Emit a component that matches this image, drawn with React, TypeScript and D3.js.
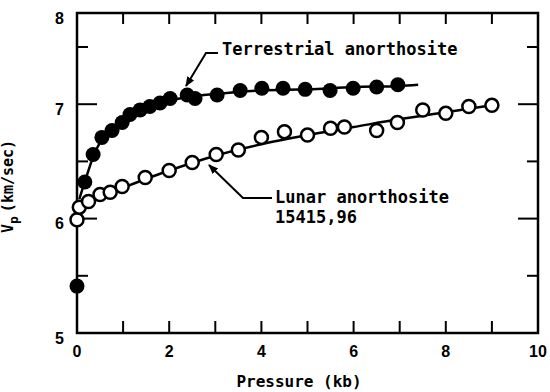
import React from 'react';
import * as d3 from 'd3';

// measured points (pressure in kb, Vp in km/sec)
const terrestrialP = [0, 0.17, 0.35, 0.54, 0.76, 0.98, 1.15, 1.37, 1.58, 1.8, 2.02, 2.39, 2.56, 3.04, 3.54, 4.01, 4.47, 4.95, 5.49, 5.99, 6.5, 6.96];
const terrestrialVp = [5.41, 6.32, 6.56, 6.71, 6.77, 6.84, 6.91, 6.95, 6.98, 7.01, 7.05, 7.08, 7.05, 7.08, 7.12, 7.14, 7.14, 7.13, 7.12, 7.14, 7.15, 7.17];

const lunarP = [0, 0.05, 0.25, 0.5, 0.72, 0.98, 1.48, 2.0, 2.5, 3.02, 3.5, 4.0, 4.5, 5.0, 5.5, 5.8, 6.5, 6.95, 7.5, 8.0, 8.5, 9.0];
const lunarVp = [5.99, 6.1, 6.15, 6.21, 6.23, 6.28, 6.36, 6.42, 6.49, 6.56, 6.6, 6.71, 6.76, 6.73, 6.79, 6.8, 6.77, 6.84, 6.95, 6.92, 6.98, 6.99];

// hand drawn fit curves
const terrestrialFitP = [0.05, 0.2, 0.4, 0.6, 0.8, 1.0, 1.5, 2.0, 2.5, 3.0, 4.0, 5.0, 6.0, 7.0, 7.4];
const terrestrialFitVp = [6.17, 6.36, 6.59, 6.72, 6.79, 6.85, 6.96, 7.03, 7.07, 7.09, 7.12, 7.13, 7.15, 7.16, 7.17];
const lunarFitP = [0, 0.05, 0.3, 1, 2, 3, 4, 5, 6, 7, 8, 9];
const lunarFitVp = [5.99, 6.1, 6.16, 6.27, 6.42, 6.55, 6.65, 6.73, 6.8, 6.87, 6.93, 6.99];

const xTicks = [0, 1, 2, 3, 4, 5, 6, 7, 8, 9, 10];
const xTickLabels = ['0', '2', '4', '6', '8', '10'];
const yTicks = [5, 5.5, 6, 6.5, 7, 7.5, 8];
const yTickLabels = ['5', '6', '7', '8'];

const mono = '"DejaVu Sans Mono", monospace';
const sans = '"Liberation Sans", Arial, sans-serif';

const zip = (a: number[], b: number[]) => a.map((v, i) => [v, b[i]] as [number, number]);

export default function App() {
  const x = d3.scaleLinear().domain([0, 10]).range([77, 538]);
  // the printed axis is slightly compressed near the top
  const y = d3.scaleLinear().domain([5, 7.5, 8]).range([333, 47, 13]);
  const left = x(0), right = x(10), top = y(8), bottom = y(5);

  const line = d3.line<[number, number]>()
    .x((d) => x(d[0]))
    .y((d) => y(d[1]))
    .curve(d3.curveMonotoneX);

  const terr = zip(terrestrialP, terrestrialVp);
  const lunar = zip(lunarP, lunarVp);

  return (
    <svg width={550} height={392} style={{ position: 'absolute', left: 0, top: 0, background: '#fff' }}>
      <defs>
        <marker id="arr" viewBox="0 0 10 10" refX="9" refY="5" markerWidth="5" markerHeight="5" orient="auto">
          <path d="M0,1 L10,5 L0,9 z" fill="#000" />
        </marker>
      </defs>

      {/* frame */}
      <rect x={left} y={top} width={right - left} height={bottom - top} fill="none" stroke="#000" strokeWidth={2.5} />

      {/* x ticks, bottom and top */}
      {xTicks.slice(1, -1).map((t) => (
        <g key={'xt' + t} stroke="#000" strokeWidth={2}>
          <line x1={x(t)} x2={x(t)} y1={bottom} y2={bottom - 12} />
          <line x1={x(t)} x2={x(t)} y1={top} y2={top + 11} />
        </g>
      ))}
      {/* y ticks, left and right */}
      {yTicks.slice(1, -1).map((t) => {
        const len = Number.isInteger(t) ? 20 : 11;
        return (
          <g key={'yt' + t} stroke="#000" strokeWidth={2}>
            <line x1={left} x2={left + len} y1={y(t)} y2={y(t)} />
            <line x1={right} x2={right - len} y1={y(t)} y2={y(t)} />
          </g>
        );
      })}

      {/* tick labels */}
      {xTickLabels.map((s) => (
        <text key={'xl' + s} x={x(+s)} y={357} textAnchor="middle" fontFamily={sans} fontWeight="bold" fontSize={16}>{s}</text>
      ))}
      {yTickLabels.map((s) => (
        <text key={'yl' + s} x={64} y={y(+s) + 5} dy="0.35em" textAnchor="end" fontFamily={sans} fontWeight="bold" fontSize={16}>{s}</text>
      ))}

      {/* axis titles */}
      <text x={299} y={387} textAnchor="middle" fontFamily={mono} fontWeight="bold" fontSize={16}>Pressure (kb)</text>
      <text transform="rotate(-90)" x={-233} y={13} fontFamily={mono} fontWeight="bold" fontSize={15}>
        V<tspan dy={5} fontSize={13}>p</tspan><tspan dy={-5} dx={4}>(km/sec)</tspan>
      </text>

      {/* fit lines */}
      <path d={line(zip(terrestrialFitP, terrestrialFitVp)) || ''} fill="none" stroke="#000" strokeWidth={2.5} />
      <path d={line(zip(lunarFitP, lunarFitVp)) || ''} fill="none" stroke="#000" strokeWidth={2.5} />

      {/* data points */}
      {terr.map((d, i) => (
        <circle key={'t' + i} cx={x(d[0])} cy={y(d[1])} r={7.5} fill="#000" />
      ))}
      {lunar.map((d, i) => (
        <circle key={'l' + i} cx={x(d[0])} cy={y(d[1])} r={6.5} fill="#fff" stroke="#000" strokeWidth={2.5} />
      ))}

      {/* annotations */}
      <polyline points="218,53 206,53 186,86" fill="none" stroke="#000" strokeWidth={2} markerEnd="url(#arr)" />
      <text x={222} y={55} fontFamily={mono} fontWeight="bold" fontSize={17}>Terrestrial anorthosite</text>

      <polyline points="272,198 243,198 209,165" fill="none" stroke="#000" strokeWidth={2} markerEnd="url(#arr)" />
      <text x={275} y={203} fontFamily={mono} fontWeight="bold" fontSize={17}>Lunar anorthosite</text>
      <text x={275} y={223} fontFamily={mono} fontWeight="bold" fontSize={17}>15415,96</text>
    </svg>
  );
}
